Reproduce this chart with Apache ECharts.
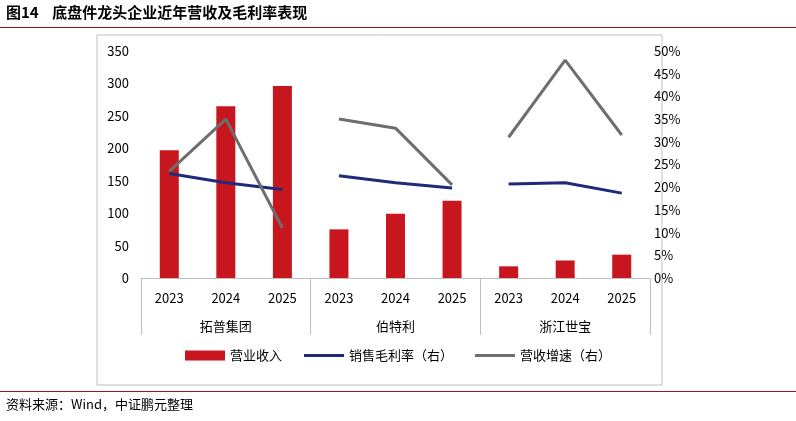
<!DOCTYPE html><html><head><meta charset="utf-8"><script src="https://cdn.jsdelivr.net/npm/echarts@6/dist/echarts.min.js"></script></head><body style="margin:0"><div id="c" style="width:796px;height:421px"></div><script>
const years=['2023','2024','2025','2023','2024','2025','2023','2024','2025'];
const groups=['拓普集团','伯特利','浙江世宝'];
const revenue=[197,265,296,75,99,119,18,27,36];
const marginG=[[23,21,19.5],[22.5,21,19.8],[20.7,21,18.7]];
const growthG=[[23.5,35,11],[35,33,20.5],[31,48,31.5]];
function seg(g,i){const a=Array(9).fill(null);g[i].forEach((v,k)=>a[i*3+k]=v);return a;}
const f='"Noto Sans CJK SC"';
const ch=echarts.init(document.getElementById('c'));
const lineS=(name,g,color)=>[0,1,2].map(i=>({name,type:'line',yAxisIndex:1,xAxisIndex:0,data:seg(g,i),symbol:'none',lineStyle:{color,width:3},itemStyle:{color}}));
const lineIcon='path://M0,0 L40,0 L40,3 L0,3Z';
ch.setOption({animation:false,textStyle:{fontFamily:f},
graphic:[
{type:'text',left:6,top:5,style:{text:'图14    底盘件龙头企业近年营收及毛利率表现',font:'bold 15px '+f,fill:'#000'}},
{type:'rect',shape:{x:0,y:27,width:796,height:1},style:{fill:'#a0141e'}},
{type:'rect',shape:{x:97,y:35,width:565,height:350},style:{fill:'none',stroke:'#bfbfbf',lineWidth:1}},
{type:'rect',shape:{x:0,y:391,width:796,height:1},style:{fill:'#a0141e'}},
{type:'text',left:6,top:398,style:{text:'资料来源：Wind，中证鹏元整理',font:'13px '+f,fill:'#000'}}],
legend:{bottom:54,left:'center',itemWidth:40,itemHeight:10,itemGap:22,textStyle:{fontSize:13,color:'#000'},
data:[{name:'营业收入',icon:'rect'},{name:'销售毛利率（右）',icon:lineIcon,itemStyle:{color:'#1f2a78'}},{name:'营收增速（右）',icon:lineIcon,itemStyle:{color:'#6e6e6e'}}]},
grid:{left:141,right:146,top:51,bottom:143},
xAxis:[{type:'category',data:years,axisLine:{lineStyle:{color:'#bfbfbf'}},axisTick:{show:false},axisLabel:{color:'#000',fontSize:13,margin:14}},
{type:'category',data:groups,position:'bottom',axisLine:{show:false},axisTick:{show:true,length:57,lineStyle:{color:'#bfbfbf'}},axisLabel:{color:'#000',fontSize:13,margin:42}}],
yAxis:[{type:'value',min:0,max:350,interval:50,splitLine:{show:false},axisLabel:{color:'#000',fontSize:13,margin:12}},
{type:'value',min:0,max:50,interval:5,splitLine:{show:false},axisLabel:{color:'#000',fontSize:13,formatter:'{value}%',margin:4}}],
series:[{name:'营业收入',type:'bar',data:revenue,barWidth:19,itemStyle:{color:'#c8161e'}},
...lineS('销售毛利率（右）',marginG,'#1f2a78'),...lineS('营收增速（右）',growthG,'#6e6e6e')]});
</script></body></html>
